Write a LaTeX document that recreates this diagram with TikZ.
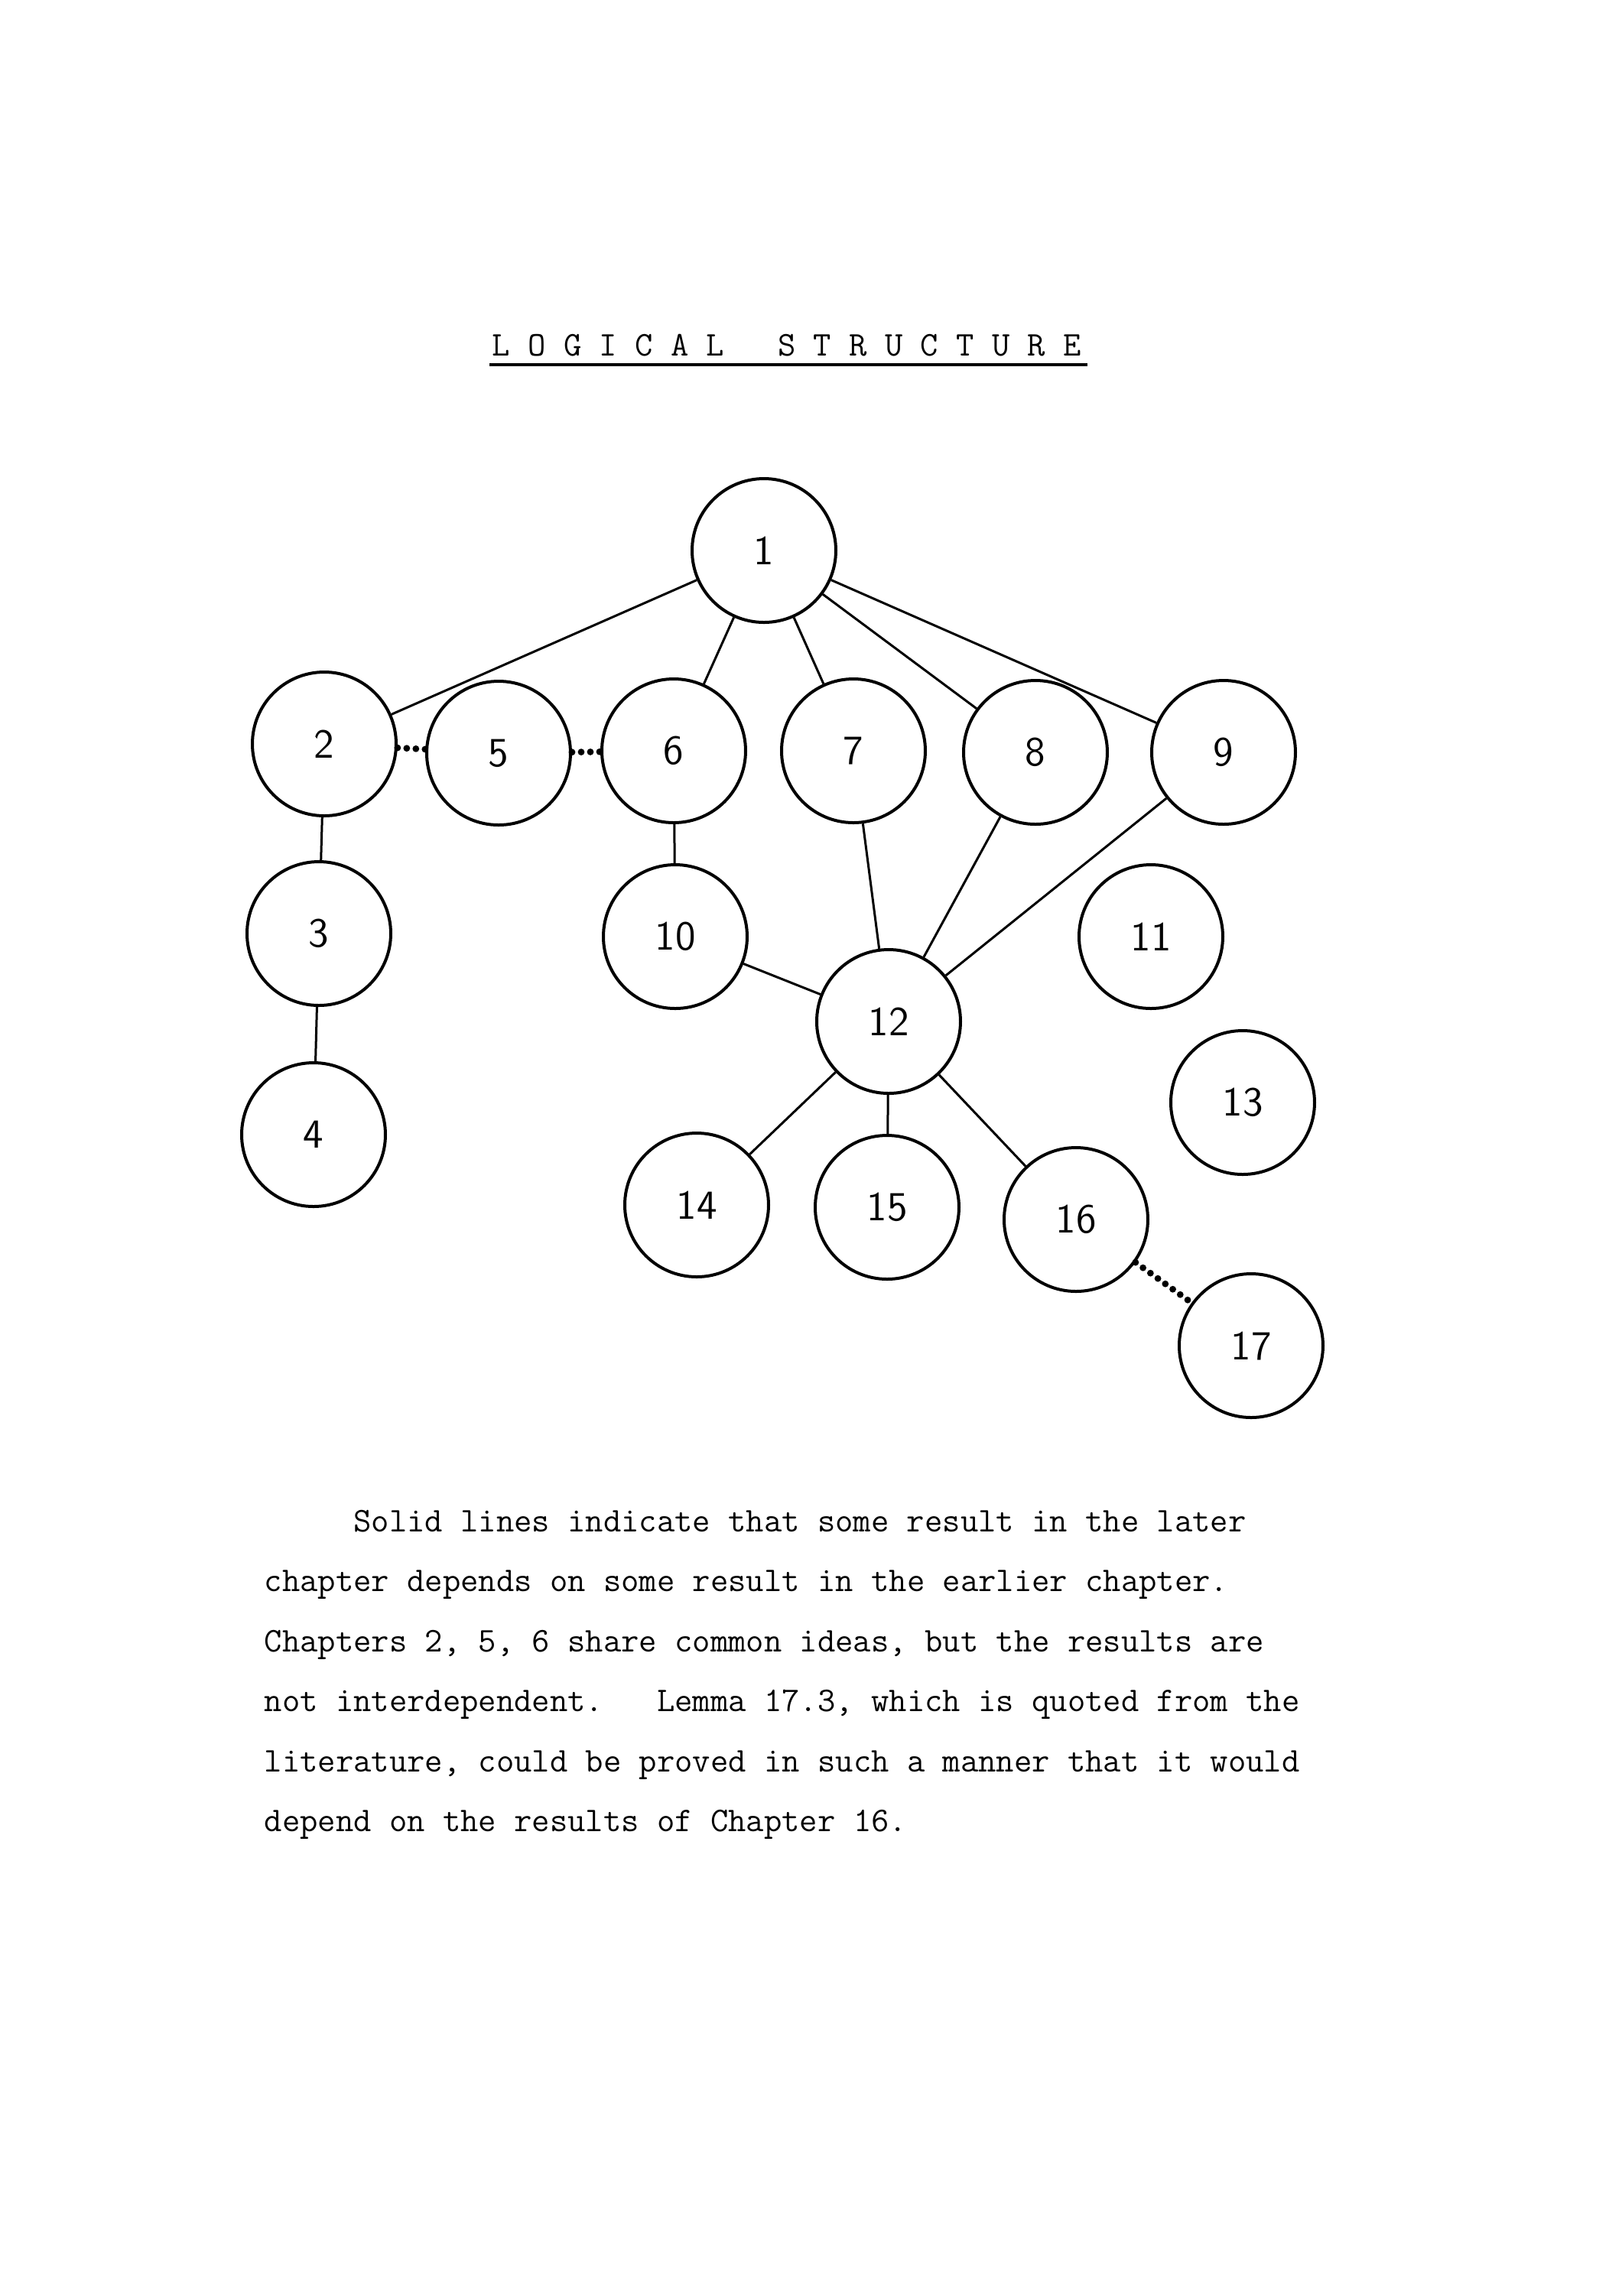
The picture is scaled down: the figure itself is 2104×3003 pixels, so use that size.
\documentclass[tikz,border=0pt]{standalone}
\usepackage{fontspec}
\begin{document}
\frenchspacing
\begin{tikzpicture}[x=0.25pt,y=-0.25pt,
  chap/.style={circle,draw,line width=1pt,minimum size=47pt,inner sep=0pt,font=\sffamily\fontsize{13.5}{16}\selectfont},
  dep/.style={line width=0.75pt},
  dotline/.style={line width=2.2pt,line cap=round,dash pattern=on 0pt off 3pt},
  txt/.style={anchor=base west,inner sep=0pt,font=\ttfamily\fontsize{11.33}{13}\selectfont}]
\useasboundingbox (0,0) rectangle (2104,3003);
% title
\node[txt] (title) at (643,465) {L\ O\ G\ I\ C\ A\ L\ \ \ S\ T\ R\ U\ C\ T\ U\ R\ E};
\coordinate (ul1) at (640,477);
\coordinate (ul2) at (1422,477);
\draw[line width=1pt] (ul1) -- (ul2);
% chapters
\node[chap] (n1) at (999,720) {1};
\node[chap] (n2) at (424,973) {2};
\node[chap] (n5) at (652,985) {5};
\node[chap] (n6) at (881,982) {6};
\node[chap] (n7) at (1116,982) {7};
\node[chap] (n8) at (1354,984) {8};
\node[chap] (n9) at (1600,984) {9};
\node[chap] (n3) at (417,1221) {3};
\node[chap] (n4) at (410,1484) {4};
\node[chap] (n10) at (883,1225) {10};
\node[chap] (n11) at (1505,1225) {11};
\node[chap] (n12) at (1162,1336) {12};
\node[chap] (n13) at (1625,1442) {13};
\node[chap] (n14) at (911,1576) {14};
\node[chap] (n15) at (1160,1579) {15};
\node[chap] (n16) at (1407,1595) {16};
\node[chap] (n17) at (1636,1760) {17};
% dependencies
\draw[dep] (n1) -- (n2);
\draw[dep] (n1) -- (n6);
\draw[dep] (n1) -- (n7);
\draw[dep] (n1) -- (n8);
\draw[dep] (n1) -- (n9);
\draw[dep] (n2) -- (n3);
\draw[dep] (n3) -- (n4);
\draw[dep] (n6) -- (n10);
\draw[dep] (n7) -- (n12);
\draw[dep] (n8) -- (n12);
\draw[dep] (n9) -- (n12);
\draw[dep] (n10) -- (n12);
\draw[dep] (n12) -- (n14);
\draw[dep] (n12) -- (n15);
\draw[dep] (n12) -- (n16);
% shared ideas / possible dependency
\draw[dotline] (n2) -- (n5);
\draw[dotline] (n5) -- (n6);
\draw[dotline] (n16) -- (n17);
% caption
\node[txt] (l1) at (345,2003) {\ \ \ \ \ Solid lines indicate that some result in the later};
\node[txt] (l2) at (345,2081) {chapter depends on some result in the earlier chapter.};
\node[txt] (l3) at (345,2160) {Chapters 2, 5, 6 share common ideas, but the results are};
\node[txt] (l4) at (345,2238) {not interdependent.\ \ \ Lemma 17.3, which is quoted from the};
\node[txt] (l5) at (345,2317) {literature, could be proved in such a manner that it would};
\node[txt] (l6) at (345,2395) {depend on the results of Chapter 16.};
\end{tikzpicture}
\end{document}
